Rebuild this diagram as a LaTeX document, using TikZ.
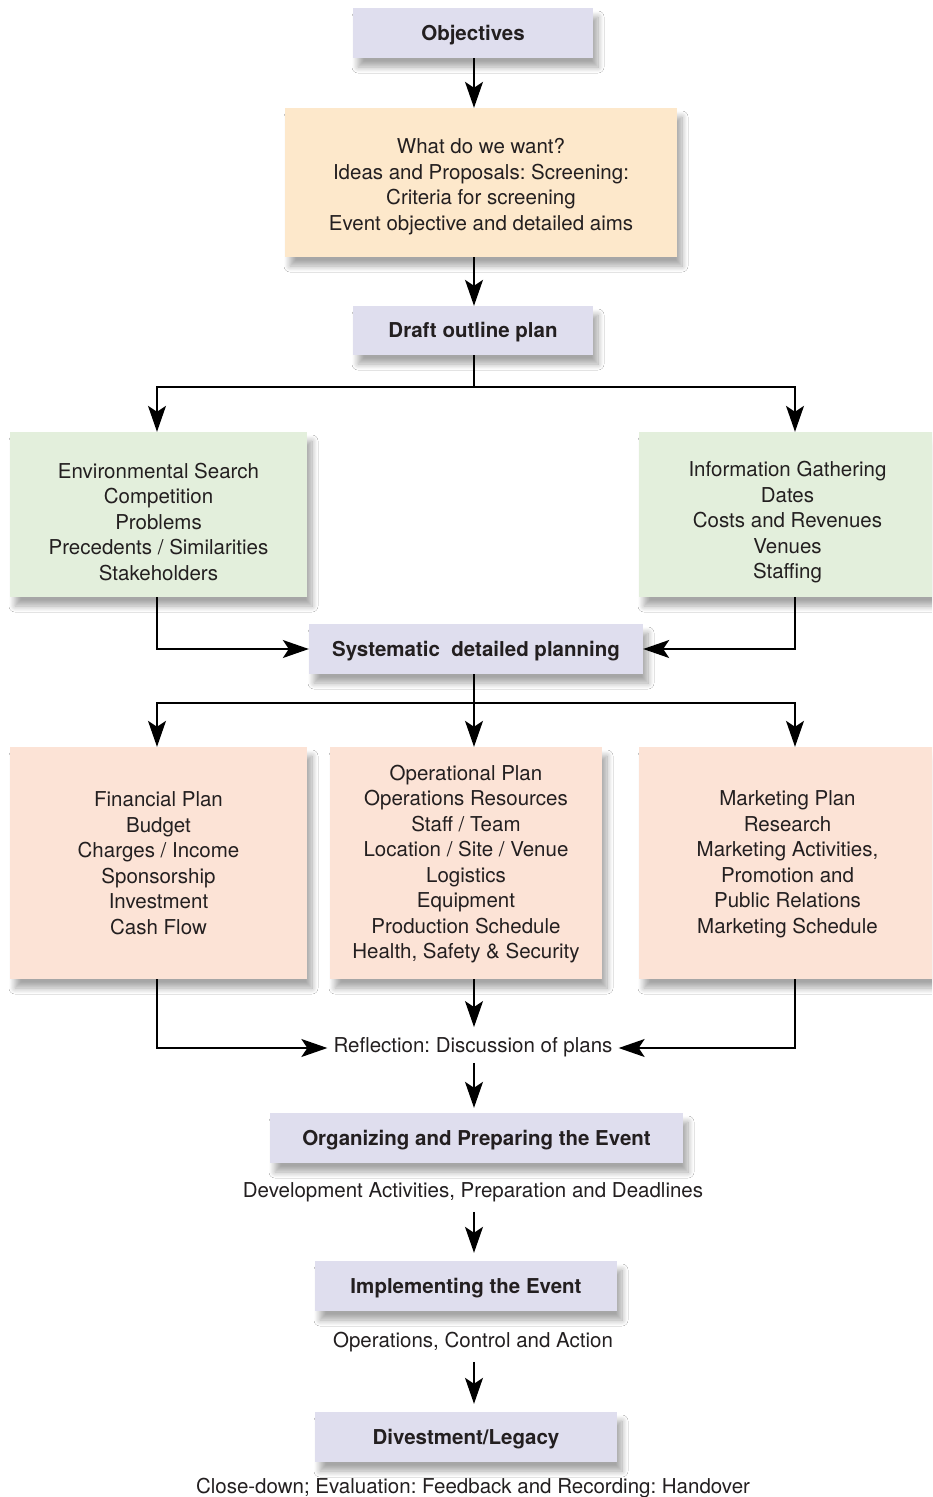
\documentclass[tikz,border=0pt]{standalone}
\usepackage{fontspec}
\setmainfont{TeX Gyre Heros}
\usetikzlibrary{arrows.meta,shadows.blur}
\definecolor{lav}{HTML}{DFDEEE}
\definecolor{orng}{HTML}{FDE8CB}
\definecolor{grn}{HTML}{E3EFDC}
\definecolor{pnk}{HTML}{FCE3D6}
\definecolor{txt}{HTML}{231F20}
\newcommand{\tup}[1]{\rule{0pt}{#1}}
\tikzset{
  shad/.style={blur shadow={shadow xshift=5pt,shadow yshift=-9pt,shadow blur radius=6pt,shadow blur steps=10,shadow opacity=35}},
  hdr/.style={shad,fill=lav,text=txt,inner sep=0pt,minimum height=50pt,
    text height=19pt,text depth=4.5pt,
    font=\fontsize{20.5}{25}\selectfont\bfseries},
  box/.style={shad,text=txt,inner sep=0pt,align=center,
    font=\fontsize{20.5}{25.5}\selectfont},
  plain/.style={text=txt,inner sep=6pt,text height=19pt,text depth=4.5pt,
    font=\fontsize{20.5}{25}\selectfont},
  arr/.style={draw=black,line width=1.3pt,-{Stealth[length=26pt,width=18pt,inset=6pt]}},
  ln/.style={draw=black,line width=1.3pt}
}
\begin{document}
\frenchspacing
\begin{tikzpicture}[x=1pt,y=-1pt]
\useasboundingbox (0,0) rectangle (932,1497);
\clip (0,0) rectangle (932,1497);
\fill[white] (0,0) rectangle (932,1497);

\coordinate (r) at (795,0);
\coordinate (l) at (157,0);

\node[hdr,minimum width=240pt] (obj) at (473,33) {Objectives};
\node[box,fill=orng,minimum width=392pt,minimum height=149pt] (want) at (481,182.5)
  {\tup{23pt}What do we want?\\Ideas and Proposals: Screening:\\Criteria for screening\\Event objective and detailed aims};
\node[hdr,minimum width=240pt,minimum height=49pt] (draft) at (473,330.5) {Draft outline plan};

\node[box,fill=grn,minimum width=297pt,minimum height=165pt] (env) at (158.5,514.5)
  {\tup{30pt}Environmental Search\\Competition\\Problems\\Precedents / Similarities\\Stakeholders};
\node[box,fill=grn,minimum width=297pt,minimum height=165pt] (info) at (787.5,514.5)
  {\tup{31pt}Information Gathering\\Dates\\Costs and Revenues\\Venues\\Staffing};

\node[hdr,minimum width=334pt] (sys) at (476,649) {Systematic\ \ detailed planning};

\node[box,fill=pnk,minimum width=297pt,minimum height=232pt] (fin) at (158.5,863)
  {Financial Plan\\Budget\\Charges / Income\\Sponsorship\\Investment\\Cash Flow};
\node[box,fill=pnk,minimum width=272pt,minimum height=232pt] (ops) at (466,863)
  {\tup{17pt}Operational Plan\\Operations Resources\\Staff / Team\\Location / Site / Venue\\Logistics\\Equipment\\Production Schedule\\Health, Safety \& Security};
\node[box,fill=pnk,minimum width=297pt,minimum height=232pt] (mkt) at (787.5,863)
  {\tup{17pt}Marketing Plan\\Research\\Marketing Activities,\\Promotion and\\Public Relations\\Marketing Schedule};

\node[plain] (refl) at (473,1045) {Reflection: Discussion of plans};
\node[hdr,minimum width=413pt] (org) at (476.5,1138) {Organizing and Preparing the Event};
\node[plain] (dev) at (473,1190) {Development Activities, Preparation and Deadlines};
\node[hdr,minimum width=302pt] (impl) at (466,1286) {Implementing the Event};
\node[plain] (opst) at (473,1340) {Operations, Control and Action};
\node[hdr,minimum width=302pt] (div) at (466,1437) {Divestment/Legacy};
\node[plain] (close) at (473,1486) {Close-down; Evaluation: Feedback and Recording: Handover};

\coordinate (f1) at (474,387);
\coordinate (f2) at (474,703);
\coordinate (m) at (474,0);

\draw[arr] (obj.south -| m) -- (want.north -| m);
\draw[arr] (want.south -| m) -- (draft.north -| m);
\draw[ln] (draft.south -| m) -- (f1);
\draw[arr] (f1) -| (env.north -| l);
\draw[arr] (f1) -| (info.north -| r);
\draw[arr] (env.south -| l) |- (sys.west);
\draw[arr] (info.south -| r) |- (sys.east);
\draw[ln] (sys.south -| m) -- (f2);
\draw[arr] (f2) -| (fin.north -| l);
\draw[arr] (f2) -- (ops.north -| f2);
\draw[arr] (f2) -| (mkt.north -| r);
\draw[arr] (fin.south -| l) |- ([yshift=-3pt]refl.west);
\draw[arr] (mkt.south -| r) |- ([yshift=-3pt]refl.east);
\draw[arr] (ops.south -| m) -- (refl.north -| m);
\draw[arr,shorten >=5pt] (refl.south -| m) -- (org.north -| m);
\draw[arr,shorten >=8pt,shorten <=4pt] (dev.south -| m) -- (impl.north -| m);
\draw[arr,shorten >=8pt,shorten <=4pt] (opst.south -| m) -- (div.north -| m);
\end{tikzpicture}
\end{document}
